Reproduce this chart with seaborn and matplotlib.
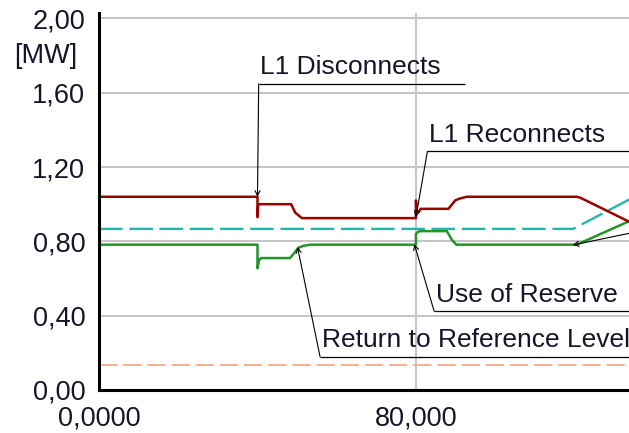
import matplotlib
matplotlib.use("Agg")
import matplotlib.pyplot as plt
import seaborn as sns

# time axis [s] and power [MW]
red_t = [0, 40, 40, 40.2, 48.5, 49.5, 51.2, 80, 80, 80.3, 80.8, 81.2, 88.2, 89.9, 91.0, 92.8, 120.6, 121.5, 134]
red_v = [1.04, 1.04, 0.93, 1.00, 1.00, 0.955, 0.925, 0.925, 1.02, 0.96, 0.96, 0.975, 0.975, 1.02, 1.03, 1.04, 1.04, 1.035, 0.904]

green_t = [0, 40, 40, 40.4, 41, 48.2, 49, 50.3, 51.5, 53.3, 80, 80, 80.5, 81, 87.8, 88.5, 89, 90.2, 120.6, 134]
green_v = [0.782, 0.782, 0.655, 0.70, 0.71, 0.71, 0.73, 0.765, 0.775, 0.782, 0.782, 0.84, 0.85, 0.855, 0.855, 0.83, 0.81, 0.782, 0.782, 0.91]

cyan_t = [0, 119.7, 134]
cyan_v = [0.867, 0.867, 1.027]

salmon_t = [0, 134]
salmon_v = [0.134, 0.134]

y_ticks = [0.0, 0.4, 0.8, 1.2, 1.6, 2.0]
y_labels = ["0,00", "0,40", "0,80", "1,20", "1,60", "2,00"]
x_ticks = [0, 80]
x_labels = ["0,0000", "80,000"]

# label, text/underline start, underline end, arrow target
notes = [
    ("L1 Disconnects", (40.3, 1.648), 92.3, (40.0, 1.04)),
    ("L1 Reconnects", (82.9, 1.284), 140, (80.0, 0.93)),
    ("Use of Reserve", (84.6, 0.424), 140, (79.6, 0.785)),
    ("Return to Reference Level", (55.8, 0.178), 140, (50.1, 0.77)),
    ("", (133.8, 0.843), 140, (119.6, 0.78)),
]

TXT = "#15152a"


def main():
    sns.set_style("white")
    plt.rcParams["font.family"] = ["Liberation Sans", "DejaVu Sans"]

    fig = plt.figure(figsize=(6.29, 4.33), dpi=100)
    ax = fig.add_axes([0.1575, 0.0995, 0.8425, 0.8707])

    sns.lineplot(x=salmon_t, y=salmon_v, ax=ax, color="#ffa07a", lw=1.2,
                 estimator=None, sort=False)
    ax.lines[-1].set_dashes([11, 3.5])
    sns.lineplot(x=cyan_t, y=cyan_v, ax=ax, color="#22b8b0", lw=1.7,
                 estimator=None, sort=False)
    ax.lines[-1].set_dashes([10, 2.8])
    sns.lineplot(x=green_t, y=green_v, ax=ax, color="#22962a", lw=1.8,
                 estimator=None, sort=False)
    sns.lineplot(x=red_t, y=red_v, ax=ax, color="#990000", lw=1.8,
                 estimator=None, sort=False)

    ax.set_xlim(0, 133.8)
    ax.set_ylim(0, 2.03)
    ax.set_yticks(y_ticks)
    ax.set_yticklabels(y_labels)
    ax.set_yticks([0.2, 0.6, 1.0, 1.4, 1.8], minor=True)
    ax.set_xticks(x_ticks)
    ax.set_xticklabels(x_labels)
    ax.set_xticks([40, 120], minor=True)

    ax.grid(True, which="major", color="#c6c6c6", lw=1.5)
    ax.set_axisbelow(True)
    for s in ["top", "right"]:
        ax.spines[s].set_visible(False)
    for s in ["left", "bottom"]:
        ax.spines[s].set_linewidth(2.2)
        ax.spines[s].set_color("black")
    ax.tick_params(which="major", direction="in", length=9.5, width=1.4,
                   color="black", labelsize=19.5, labelcolor=TXT)
    ax.tick_params(which="minor", direction="in", length=5.5, width=1.4, color="black")
    ax.tick_params(axis="y", pad=10)
    ax.tick_params(axis="x", pad=11)
    ax.set_xlabel("")
    ax.set_ylabel("")

    ax.text(-0.042, 1.80, "[MW]", transform=ax.get_yaxis_transform(),
            ha="right", va="center", fontsize=19.5, color=TXT)

    for label, (x0, y0), x1, target in notes:
        ax.plot([x0, x1], [y0, y0], color="black", lw=0.9, solid_capstyle="butt")
        ax.annotate("", xy=target, xytext=(x0, y0),
                    arrowprops=dict(arrowstyle="->,head_length=0.35,head_width=0.18",
                                    color="black", lw=0.8, shrinkA=0, shrinkB=0))
        if label:
            ax.text(x0 + 0.4, y0 + 0.025, label, ha="left", va="bottom",
                    fontsize=19, color=TXT)

    fig.savefig("out.png", dpi=100)


if __name__ == "__main__":
    main()
